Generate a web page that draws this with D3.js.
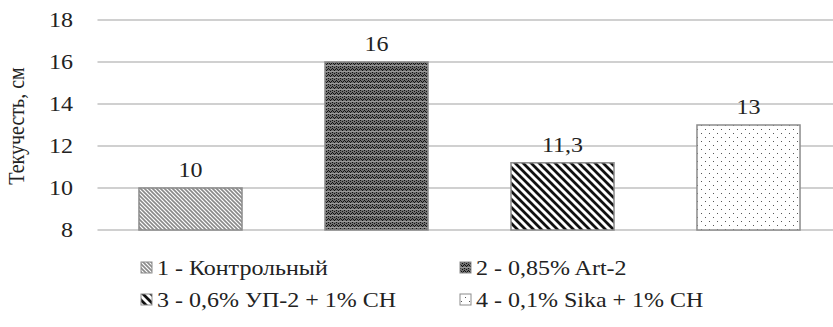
<!DOCTYPE html>
<html><head><meta charset="utf-8">
<script src="https://cdn.jsdelivr.net/npm/d3@7"></script>
<style>body{margin:0;background:#fff}svg{display:block}</style>
</head><body>
<script>
const categories = ["1 - Контрольный", "2 - 0,85% Art-2", "3 - 0,6% УП-2 + 1% СН", "4 - 0,1% Sika + 1% СН"];
const values = [10, 16, 11.2, 13];
const valueLabels = ["10", "16", "11,3", "13"];
const yTicks = [8, 10, 12, 14, 16, 18];
const yTitle = "Текучесть, см";

const W = 833, H = 327;
const FONT = '"Liberation Serif"';
const SX = 1.2;
const svg = d3.select("body").append("svg").attr("width", W).attr("height", H);
const defs = svg.append("defs");

// patterns
const p1 = defs.append("pattern").attr("id","p0").attr("patternUnits","userSpaceOnUse").attr("width",4).attr("height",4);
p1.append("rect").attr("width",4).attr("height",4).attr("fill","#fff");
p1.append("path").attr("d","M-1,-1 L5,5 M-1,3 L1,5 M3,-1 L5,1").attr("stroke","#8a8a8a").attr("stroke-width",1.6);

const p2 = defs.append("pattern").attr("id","p1").attr("patternUnits","userSpaceOnUse").attr("width",4).attr("height",6);
p2.append("rect").attr("width",4).attr("height",6).attr("fill","#707070");
[[0,0],[2,1],[0,2],[1,3],[3,3],[2,4]].forEach(([x,y])=>p2.append("rect").attr("x",x).attr("y",y).attr("width",1).attr("height",1).attr("fill","#111"));
p2.append("rect").attr("x",0).attr("y",5).attr("width",4).attr("height",1).attr("fill","#9a9a9a");

const p3 = defs.append("pattern").attr("id","p2").attr("patternUnits","userSpaceOnUse").attr("width",8).attr("height",8);
p3.append("rect").attr("width",8).attr("height",8).attr("fill","#fff");
p3.append("path").attr("d","M-2,-2 L10,10 M-2,6 L2,10 M6,-2 L10,2").attr("stroke","#111").attr("stroke-width",2.8);

const p4 = defs.append("pattern").attr("id","p3").attr("patternUnits","userSpaceOnUse").attr("width",8).attr("height",8);
p4.append("rect").attr("width",8).attr("height",8).attr("fill","#fff");
p4.append("rect").attr("x",1).attr("y",1).attr("width",1).attr("height",1).attr("fill","#555");
p4.append("rect").attr("x",5).attr("y",5).attr("width",1).attr("height",1).attr("fill","#555");

const x = d3.scaleBand().domain(categories).range([97.5, 97.5 + 4*186]).paddingInner(0.446).paddingOuter(0.223);
const y = d3.scaleLinear().domain([8, 18]).range([230, 20]);

// gridlines
svg.append("g").selectAll("line").data(yTicks).join("line")
  .attr("x1", 97.5).attr("x2", W).attr("y1", d=>y(d)).attr("y2", d=>y(d))
  .attr("stroke","#c0c0c0").attr("stroke-width",1.3);

// y axis labels
const yAxis = d3.axisLeft(y).tickValues(yTicks).tickSize(0).tickPadding(0).tickFormat(d3.format("d"));
const ga = svg.append("g").attr("transform","translate(73,0)").call(yAxis);
ga.attr("font-family", null);
ga.select(".domain").remove();
ga.selectAll("text").attr("x",0).attr("dy","0.34em").attr("transform",`scale(${SX},1)`)
  .style("font-size","20px").style("font-family",FONT).attr("fill","#222");

svg.append("text").attr("transform","translate(24,126) rotate(-90) scale(1,1.15)").attr("text-anchor","middle")
  .style("font-size","20px").style("font-family",FONT).attr("fill","#222").text(yTitle);

// bars
svg.append("g").selectAll("rect").data(categories).join("rect")
  .attr("x", d=>x(d)).attr("width", x.bandwidth())
  .attr("y", (d,i)=>y(values[i])).attr("height",(d,i)=>y(8)-y(values[i]))
  .attr("fill",(d,i)=>`url(#p${i})`).attr("stroke","#8c8c8c").attr("stroke-width",1.5);

// value labels
svg.append("g").selectAll("text").data(categories).join("text")
  .attr("transform",(d,i)=>`translate(${x(d)+x.bandwidth()/2},${y(values[i])-11}) scale(${SX},1)`)
  .attr("text-anchor","middle").style("font-size","20px").style("font-family",FONT).attr("fill","#222")
  .text((d,i)=>valueLabels[i]);

// legend
const legPos = [[141,268],[460,268],[141,300],[460,300]];
const lg = svg.append("g").selectAll("g").data(categories).join("g")
  .attr("transform",(d,i)=>`translate(${legPos[i][0]},${legPos[i][1]})`);
lg.append("rect").attr("x",0).attr("y",-6).attr("width",11).attr("height",11)
  .attr("fill",(d,i)=>`url(#p${i})`).attr("stroke","#8c8c8c").attr("stroke-width",1);
lg.append("text").attr("transform",`translate(16,6.5) scale(${SX},1)`)
  .style("font-size","20px").style("font-family",FONT).attr("fill","#222").text(d=>d);
</script>
</body></html>
